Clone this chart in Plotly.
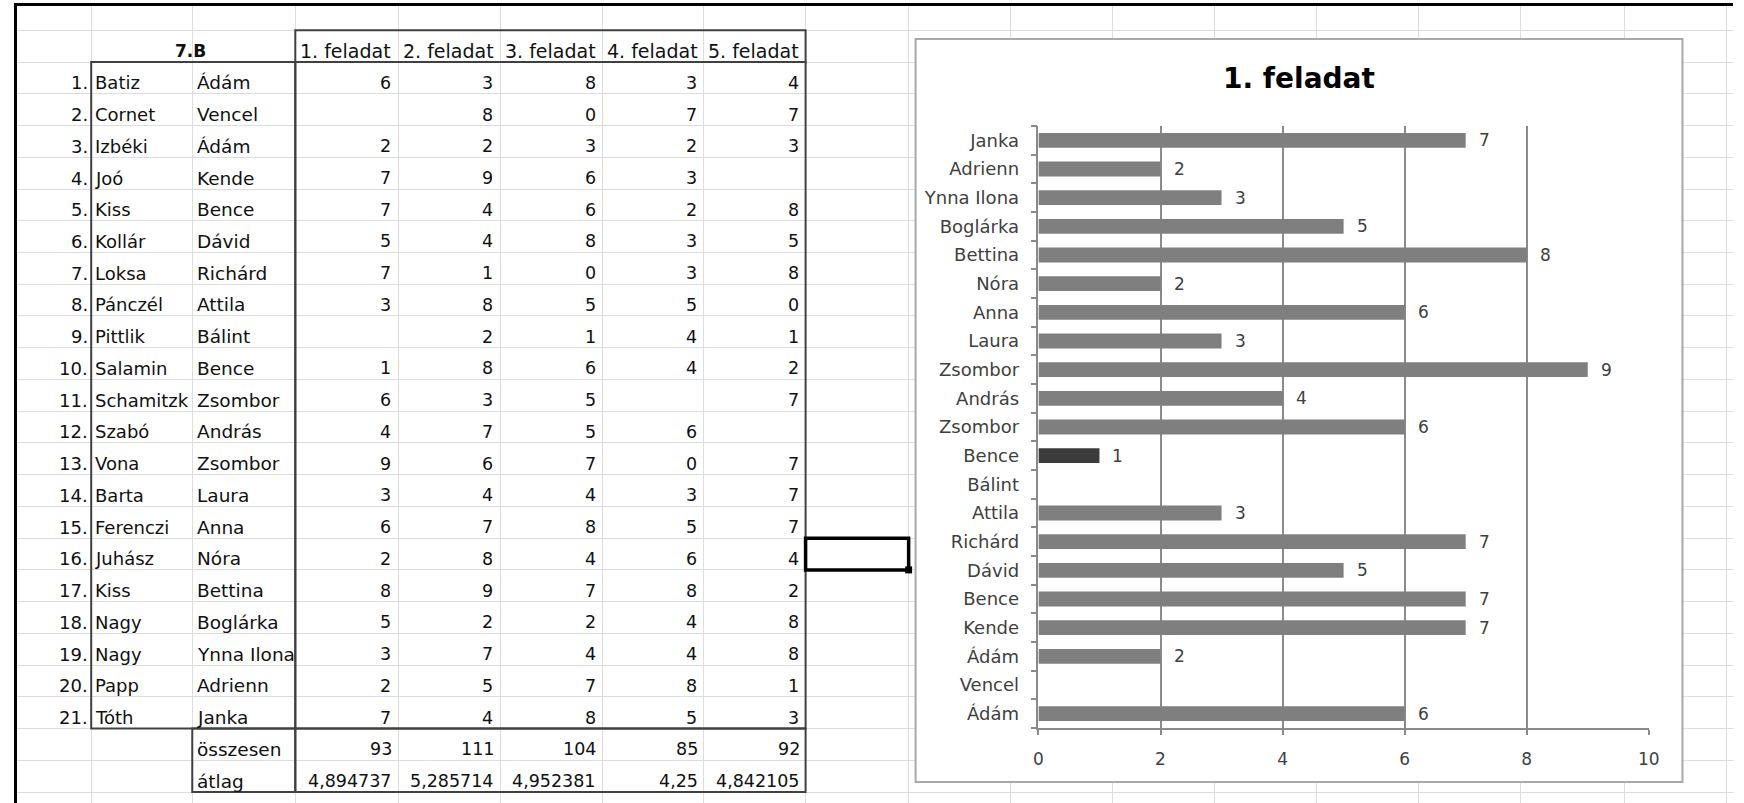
import plotly.graph_objects as go

# ---------------- data ----------------
class_label = "7.B"
task_labels = ["1. feladat", "2. feladat", "3. feladat", "4. feladat", "5. feladat"]
row_numbers = ["1.", "2.", "3.", "4.", "5.", "6.", "7.", "8.", "9.", "10.", "11.",
               "12.", "13.", "14.", "15.", "16.", "17.", "18.", "19.", "20.", "21."]
family_names = ["Batiz", "Cornet", "Izbéki", "Joó", "Kiss", "Kollár", "Loksa", "Pánczél",
                "Pittlik", "Salamin", "Schamitzk", "Szabó", "Vona", "Barta", "Ferenczi",
                "Juhász", "Kiss", "Nagy", "Nagy", "Papp", "Tóth"]
first_names = ["Ádám", "Vencel", "Ádám", "Kende", "Bence", "Dávid", "Richárd", "Attila",
               "Bálint", "Bence", "Zsombor", "András", "Zsombor", "Laura", "Anna", "Nóra",
               "Bettina", "Boglárka", "Ynna Ilona", "Adrienn", "Janka"]
task1 = [6, None, 2, 7, 7, 5, 7, 3, None, 1, 6, 4, 9, 3, 6, 2, 8, 5, 3, 2, 7]
task2 = [3, 8, 2, 9, 4, 4, 1, 8, 2, 8, 3, 7, 6, 4, 7, 8, 9, 2, 7, 5, 4]
task3 = [8, 0, 3, 6, 6, 8, 0, 5, 1, 6, 5, 5, 7, 4, 8, 4, 7, 2, 4, 7, 8]
task4 = [3, 7, 2, 3, 2, 3, 3, 5, 4, 4, None, 6, 0, 3, 5, 6, 8, 4, 4, 8, 5]
task5 = [4, 7, 3, None, 8, 5, 8, 0, 1, 2, 7, None, 7, 7, 7, 4, 2, 8, 8, 1, 3]
sum_label = "összesen"
avg_label = "átlag"
chart_title = "1. feladat"
highlighted_student = 9          # Salamin Bence (selected data point)
x_ticks = [0, 2, 4, 6, 8, 10]

tasks = [task1, task2, task3, task4, task5]


def fmt_general(v):
    s = f"{v:.6f}".rstrip("0").rstrip(".")
    return s.replace(".", ",")


totals = [str(sum(v for v in t if v is not None)) for t in tasks]
averages = [fmt_general(sum(v for v in t if v is not None) / len([v for v in t if v is not None]))
            for t in tasks]

# ---------------- layout constants ----------------
W, H = 1744, 803
COL_EDGES = [87, 189, 293, 397, 500, 603, 705, 808, 912, 1015, 1118, 1221,
             1324, 1427, 1530, 1634, 1737]
ROW_TOP, ROW_H = 30.3, 31.74


def row_edge(k):
    return ROW_TOP + ROW_H * k


SHEET_FONT = "DejaVu Sans"
TXT = "#111111"
GRID = "#dddddd"
BORDER = "#404040"
CH_TXT = "#404040"
CH_GRID = "#8a8a8a"

annotations = []


def cell(x, k, text, anchor, size=17.5, bold=False, color=TXT):
    annotations.append(dict(
        x=x, y=row_edge(k + 1) - 11, xref="x", yref="y", text=text, showarrow=False,
        xanchor=anchor, yanchor="middle",
        font=dict(family=SHEET_FONT, size=size, color=color,
                  weight=700 if bold else 400)))


# header row (k = 0)
cell((COL_EDGES[0] + COL_EDGES[2]) / 2 - 3, 0, class_label, "center", bold=True, size=17)
for j, lab in enumerate(task_labels):
    cell((COL_EDGES[2 + j] + COL_EDGES[3 + j]) / 2 - 1, 0, lab, "center", size=19)

# student rows
for i in range(len(family_names)):
    k = i + 1
    cell(COL_EDGES[0] - 1, k, row_numbers[i], "right", size=18)
    cell(COL_EDGES[0] + 2, k, family_names[i], "left", size=18)
    cell(COL_EDGES[1] + 3, k, first_names[i], "left", size=18.5)
    for j, t in enumerate(tasks):
        if t[i] is not None:
            cell(COL_EDGES[3 + j] - 5, k, str(t[i]), "right")

# summary rows
cell(COL_EDGES[1] + 3, 22, sum_label, "left", size=18.5)
cell(COL_EDGES[1] + 3, 23, avg_label, "left", size=18.5)
for j in range(5):
    cell(COL_EDGES[3 + j] - 4, 22, totals[j], "right")
    cell(COL_EDGES[3 + j] - 4, 23, averages[j], "right")

# ---------------- shapes ----------------
shapes = []


def box(x0, x1, k0, k1, color=BORDER, width=2):
    shapes.append(dict(type="rect", xref="x", yref="y", x0=x0, x1=x1,
                       y0=row_edge(k0), y1=row_edge(k1),
                       line=dict(color=color, width=width), layer="above"))


box(COL_EDGES[2], COL_EDGES[7], 0, 1)
box(COL_EDGES[0], COL_EDGES[2], 1, 22)
box(COL_EDGES[2], COL_EDGES[7], 1, 22)
box(COL_EDGES[1], COL_EDGES[2], 22, 24)
box(COL_EDGES[2], COL_EDGES[7], 22, 24)
# selected cell + fill handle
box(COL_EDGES[7], COL_EDGES[8], 16, 17, color="#000000", width=3.5)
shapes.append(dict(type="rect", xref="x", yref="y",
                   x0=COL_EDGES[8] - 3.5, x1=COL_EDGES[8] + 3.5,
                   y0=row_edge(17) - 3.5, y1=row_edge(17) + 3.5,
                   fillcolor="#000000", line=dict(width=0), layer="above"))
# chart area (white box covering the sheet grid)
CHART_BOX = (919, 1693, 39, 782)
shapes.append(dict(type="rect", xref="x", yref="y",
                   x0=CHART_BOX[0], x1=CHART_BOX[1], y0=CHART_BOX[2], y1=CHART_BOX[3],
                   fillcolor="white", line=dict(color="#a8a8a8", width=2),
                   layer="between"))

# ---------------- chart ----------------
ypos = list(range(len(first_names)))
colors = ["#3c3c3c" if i == highlighted_student else "#7f7f7f" for i in ypos]

fig = go.Figure()
fig.add_trace(go.Bar(x=task1, y=ypos, orientation="h", marker=dict(color=colors, line=dict(width=0)),
                     xaxis="x2", yaxis="y2", showlegend=False, hoverinfo="skip"))

for i, v in enumerate(task1):
    if v is not None:
        annotations.append(dict(x=v, y=i, xref="x2", yref="y2", text=str(v), showarrow=False,
                                xanchor="left", yanchor="middle", xshift=11,
                                font=dict(family=SHEET_FONT, size=17, color=CH_TXT)))

annotations.append(dict(x=(CHART_BOX[0] + CHART_BOX[1]) / 2 / W, y=1 - 79 / H, xref="paper",
                        yref="paper", text=chart_title, showarrow=False,
                        xanchor="center", yanchor="middle",
                        font=dict(family=SHEET_FONT, size=28, color="#000000", weight=700)))

PLOT_L, PLOT_R, PLOT_T, PLOT_B = 1043, 1659, 126, 728

fig.update_layout(
    width=W, height=H, margin=dict(l=0, r=0, t=0, b=0),
    paper_bgcolor="white", plot_bgcolor="white",
    bargap=0.48, showlegend=False,
    xaxis=dict(domain=[12 / W, 1], range=[12, W], side="top", showline=True,
               linecolor="#000000", linewidth=2.5, tickmode="array", tickvals=COL_EDGES,
               showgrid=True, gridcolor=GRID, gridwidth=1.3, showticklabels=False,
               ticks="", zeroline=False, fixedrange=True),
    yaxis=dict(domain=[0, (H - 6) / H], range=[H, 6], showline=True,
               linecolor="#000000", linewidth=2.5, tickmode="array",
               tickvals=[row_edge(k) for k in range(25)],
               showgrid=True, gridcolor=GRID, gridwidth=1.3, showticklabels=False,
               ticks="", zeroline=False, fixedrange=True),
    xaxis2=dict(domain=[PLOT_L / W, PLOT_R / W], anchor="y2", range=[0, 10],
                tickmode="array", tickvals=x_ticks,
                showgrid=True, gridcolor=CH_GRID, gridwidth=1.5,
                showline=True, linecolor=CH_GRID, linewidth=1.5,
                ticks="outside", ticklen=5, tickcolor=CH_GRID, tickwidth=1.5,
                ticklabelstandoff=10,
                tickfont=dict(family=SHEET_FONT, size=17, color=CH_TXT),
                zeroline=False, fixedrange=True),
    yaxis2=dict(domain=[(H - PLOT_B) / H, (H - PLOT_T) / H], anchor="x2",
                range=[-0.5, len(first_names) - 0.5],
                tickmode="array", tickvals=ypos, ticktext=first_names,
                ticks="", showgrid=False, zeroline=False,
                showline=True, linecolor=CH_GRID, linewidth=1.5,
                minor=dict(tickmode="array", tickvals=[i - 0.5 for i in range(len(first_names) + 1)],
                           ticks="outside", ticklen=6, tickcolor=CH_GRID, tickwidth=1.5,
                           showgrid=False),
                ticklabelstandoff=14,
                tickfont=dict(family=SHEET_FONT, size=18, color=CH_TXT),
                fixedrange=True),
    shapes=shapes,
    annotations=annotations,
)

fig.write_html("out.html", config={"displayModeBar": False},
               post_script="document.body.style.margin='0';")
